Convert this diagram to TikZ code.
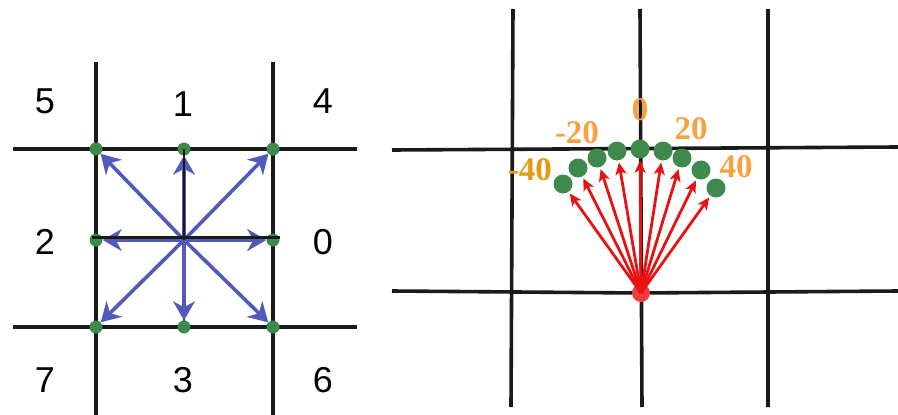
\documentclass[tikz,border=0pt]{standalone}
\usepackage{fontspec}
\setmainfont{Liberation Serif}
\setsansfont{Liberation Sans}
\usepackage{tikz}
\usetikzlibrary{arrows.meta,positioning,calc}
\definecolor{ink}{HTML}{1A1A1A}
\definecolor{dotg}{HTML}{3E8A4C}
\definecolor{arrb}{HTML}{5159BA}
\definecolor{arrr}{HTML}{E81212}
\definecolor{dotr}{HTML}{F23C3C}
\definecolor{ang}{HTML}{F9A040}
\definecolor{ang2}{HTML}{E39A10}
\tikzset{
  gline/.style={draw=ink,line width=3.6pt},
  cline/.style={draw=ink,line width=2.5pt},
  gdot/.style={circle,fill=dotg,inner sep=0pt,minimum size=13pt},
  bdot/.style={gdot,minimum size=19pt},
  rdot/.style={circle,fill=dotr,inner sep=0pt,minimum size=18pt},
  barr/.style={-{Stealth[length=19pt,width=22pt,inset=6pt]},draw=arrb,line width=3.6pt},
  rarr/.style={-{Stealth[length=12pt,width=11pt,inset=3pt]},draw=arrr,line width=2.8pt,shorten >=2pt},
  num/.style={font=\sffamily\fontsize{36}{36}\selectfont},
  lab/.style={font=\bfseries\fontsize{33}{33}\selectfont,text=ang},
}
\begin{document}
\begin{tikzpicture}[x=1pt,y=-1pt]
\useasboundingbox (0,0) rectangle (898,415);
% left: 8 neighbours
\draw[gline] (96,62) -- (96,415) (273,62) -- (273,415);
\draw[gline] (13,149) -- (357,149) (13,327) -- (357,327);
\draw[cline] (184,240) -- (184,327);
\node[circle,fill=dotr,inner sep=0pt,minimum size=8pt] (c) at (184,240) {};
\node[gdot] (n0) at (273,240) {};
\node[gdot] (n1) at (184,149) {};
\node[gdot] (n2) at (96,240) {};
\node[gdot] (n3) at (184,327) {};
\node[gdot] (n4) at (273,149) {};
\node[gdot] (n5) at (96,149) {};
\node[gdot] (n6) at (273,327) {};
\node[gdot] (n7) at (96,327) {};
\foreach \i in {0,...,7} \draw[barr] (c.center) -- (n\i);
\draw[cline] (184,149) -- (184,240) (92,237.5) -- (280,237.5);
\node[num] (l5) at (45,101) {5};
\node[num] (l1) at (183,104) {1};
\node[num] (l4) at (323,101) {4};
\node[num] (l2) at (45,242) {2};
\node[num] (l0) at (323,242) {0};
\node[num] (l7) at (45,380) {7};
\node[num] (l3) at (183,380) {3};
\node[num] (l6) at (323,380) {6};
% right: fan of angles
\draw[gline] (513,9) -- (511,407) (640,9) -- (642,407) (768,9) -- (768,407);
\draw[gline] (392,150) -- (898,147);
\draw[gline] (392,291) -- (640,293) -- (898,291);
\node[rdot] (o) at (641,293) {};
\node[bdot] (d1) at (563,184) {};
\node[bdot] (d2) at (578,168) {};
\node[bdot] (d3) at (597,158) {};
\node[bdot] (d4) at (617,151) {};
\node[bdot] (d5) at (640,149) {};
\node[bdot] (d6) at (663,151) {};
\node[bdot] (d7) at (682,158) {};
\node[bdot] (d8) at (701,170) {};
\node[bdot] (d9) at (716,188) {};
\foreach \i in {1,...,9} \draw[rarr] (o.center) -- (d\i);
\node[lab] (a0) at (640,110) {0};
\node[lab] (am20) at (577,133) {-20};
\node[lab] (a20) at (691,129) {20};
\node[lab,text=ang2] (am40) at (530,170) {-40};
\node[lab] (a40) at (736,167) {40};
\end{tikzpicture}
\end{document}
